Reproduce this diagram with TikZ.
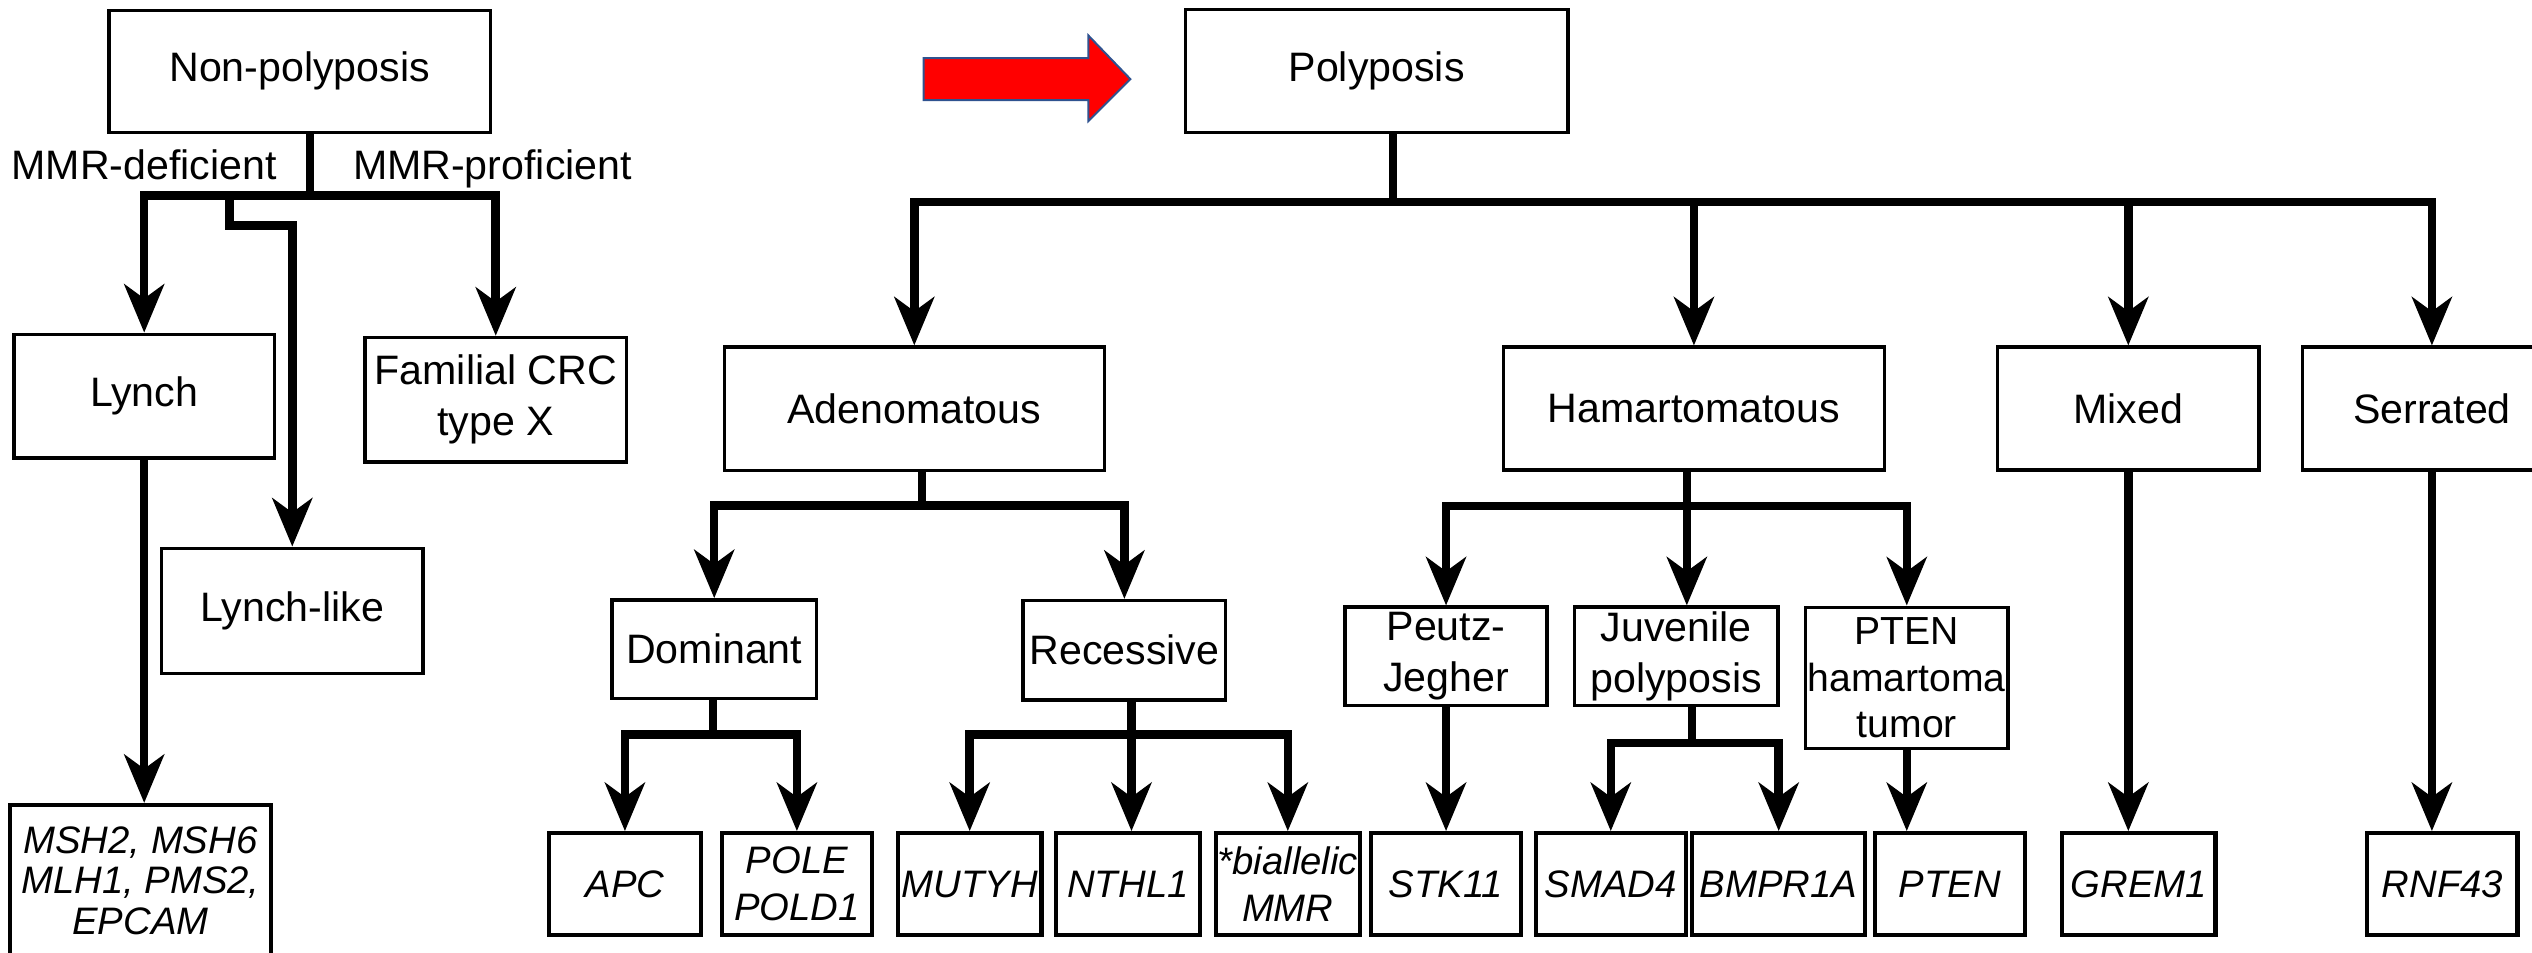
\documentclass[tikz,border=0pt]{standalone}
\usepackage{fontspec}
\setmainfont{Liberation Sans}
\usepackage{tikz}
\usetikzlibrary{arrows.meta}
\definecolor{ArrowEdge}{HTML}{2F528F}

\begin{document}
\begin{tikzpicture}[x=0.02cm,y=-0.02cm,line width=3pt,
                    >={Stealth[length=17pt,width=14pt,inset=5pt]}]
\tikzset{BoxStyle/.style = {draw,rectangle,line width=1.2pt,
                            inner sep=0pt,align=center,
                            font=\fontsize{14.5}{18}\selectfont},
         GeneStyle/.style = {BoxStyle,line width=1.5pt,
                             minimum width=1.86cm,minimum height=1.26cm,
                             font=\fontsize{13.5}{16.5}\selectfont\itshape},
         LabelStyle/.style = {inner sep=0pt,font=\fontsize{14.5}{18}\selectfont}}
\useasboundingbox (0,0) rectangle (1568,590);
\clip (0,0) rectangle (1568,590);

% non-polyposis branch
\node[BoxStyle,minimum width=4.72cm,minimum height=1.51cm] (np) at (185.6,44.2) {Non-polyposis};
\node[LabelStyle,anchor=base east] (mmrd) at (174,111) {MMR-deficient};
\node[LabelStyle,anchor=base west] (mmrp) at (216,111) {MMR-proficient};
\node[BoxStyle,minimum width=3.23cm,minimum height=1.53cm] (lynch) at (89.3,245.3) {Lynch};
\node[BoxStyle,minimum width=3.24cm,minimum height=1.54cm] (fam) at (307,247.5) {Familial CRC\\type X};
\node[BoxStyle,minimum width=3.24cm,minimum height=1.55cm] (ll) at (181,378.3) {Lynch-like};
\node[GeneStyle,minimum width=3.24cm,minimum height=1.87cm,
      font=\fontsize{13.5}{14.3}\selectfont\itshape] (msh) at (87,545.3) {MSH2, MSH6\\MLH1, PMS2,\\EPCAM};

\coordinate (npj) at (192,121);
\coordinate (llj) at (142,121);
\draw (np.south -| npj) -- (npj);
\draw[->] (npj) -| (lynch.north);
\draw[->] (npj) -| (fam.north);
\draw[->] (llj) -- ++(0,18.5) -| (ll.north);
\draw[->] (lynch.south) -- (lynch.south |- msh.north);

% polyposis branch
\draw[line width=0.7pt,draw=ArrowEdge,fill=red] (572,36) -- (674,36) -- (674,22) -- (700,49)
     -- (674,75) -- (674,62) -- (572,62) -- cycle;
\node[BoxStyle,minimum width=4.74cm,minimum height=1.52cm] (poly) at (852.5,44) {Polyposis};
\node[BoxStyle,minimum width=4.71cm,minimum height=1.53cm] (adeno) at (566.2,253.2) {Adenomatous};
\node[BoxStyle,minimum width=4.72cm,minimum height=1.52cm] (ham) at (1049,253) {Hamartomatous};
\node[BoxStyle,minimum width=3.24cm,minimum height=1.52cm] (mixed) at (1318,253) {Mixed};
\node[BoxStyle,minimum width=3.2cm,minimum height=1.52cm] (serr) at (1506,253) {Serrated};

\node[BoxStyle,minimum width=2.53cm,minimum height=1.22cm] (dom) at (442.3,402) {Dominant};
\node[BoxStyle,minimum width=2.51cm,minimum height=1.23cm] (rec) at (696.3,402.7) {Recessive};
\node[BoxStyle,minimum width=2.5cm,minimum height=1.22cm] (pj) at (895.5,406.5) {Peutz-\\Jegher};
\node[BoxStyle,minimum width=2.52cm,minimum height=1.22cm] (juv) at (1038,406.5) {Juvenile\\polyposis};
\node[BoxStyle,minimum width=2.51cm,minimum height=1.75cm,
      font=\fontsize{13.8}{16.5}\selectfont] (pten) at (1180.8,419.8) {PTEN\\hamartoma\\tumor};

\node[GeneStyle,minimum width=1.88cm] (apc) at (387,547.5) {APC};
\node[GeneStyle] (pole) at (493.5,547.5) {POLE\\POLD1};
\node[GeneStyle,minimum width=1.78cm] (mutyh) at (600.5,547.5) {MUTYH};
\node[GeneStyle,minimum width=1.78cm] (nthl) at (698.5,547.5) {NTHL1};
\node[GeneStyle,minimum width=1.78cm] (biall) at (797.5,547.5) {*biallelic\\MMR};
\node[GeneStyle] (stk) at (895.5,547.5) {STK11};
\node[GeneStyle] (smad) at (997.5,547.5) {SMAD4};
\node[GeneStyle,minimum width=2.14cm] (bmpr) at (1101.5,547.5) {BMPR1A};
\node[GeneStyle] (ptengene) at (1207.5,547.5) {PTEN};
\node[GeneStyle,minimum width=1.9cm] (grem) at (1324.5,547.5) {GREM1};
\node[GeneStyle] (rnf) at (1512.5,547.5) {RNF43};

\coordinate (polj) at (862.6,125);
\draw (poly.south -| polj) -- (polj);
\draw[->] (polj) -| (adeno.north);
\draw[->] (polj) -| (ham.north);
\draw[->] (polj) -| (mixed.north);
\draw[->] (polj) -| (serr.north);

\coordinate (adj) at (571,313);
\draw (adeno.south -| adj) -- (adj);
\draw[->] (adj) -| (dom.north);
\draw[->] (adj) -| (rec.north);

\coordinate (domj) at (441.5,455);
\draw (dom.south -| domj) -- (domj);
\draw[->] (domj) -| (apc.north);
\draw[->] (domj) -| (pole.north);

\coordinate (recj) at (700.7,455);
\draw (rec.south -| recj) -- (recj);
\draw[->] (recj) -| (mutyh.north);
\draw[->] (recj) -- (recj |- nthl.north);
\draw[->] (recj) -| (biall.north);

\coordinate (hamj) at (1044.6,313.5);
\draw (ham.south -| hamj) -- (hamj);
\draw[->] (hamj) -| (pj.north);
\draw[->] (hamj) -- (hamj |- juv.north);
\draw[->] (hamj) -| (pten.north);

\coordinate (juvj) at (1047.7,460);
\draw (juv.south -| juvj) -- (juvj);
\draw[->] (juvj) -| (smad.north);
\draw[->] (juvj) -| (bmpr.north);

\draw[->] (pj.south) -- (pj.south |- stk.north);
\draw[->] (pten.south) -- (pten.south |- ptengene.north);
\draw[->] (mixed.south) -- (mixed.south |- grem.north);
\draw[->] (serr.south) -- (serr.south |- rnf.north);
\end{tikzpicture}
\end{document}
